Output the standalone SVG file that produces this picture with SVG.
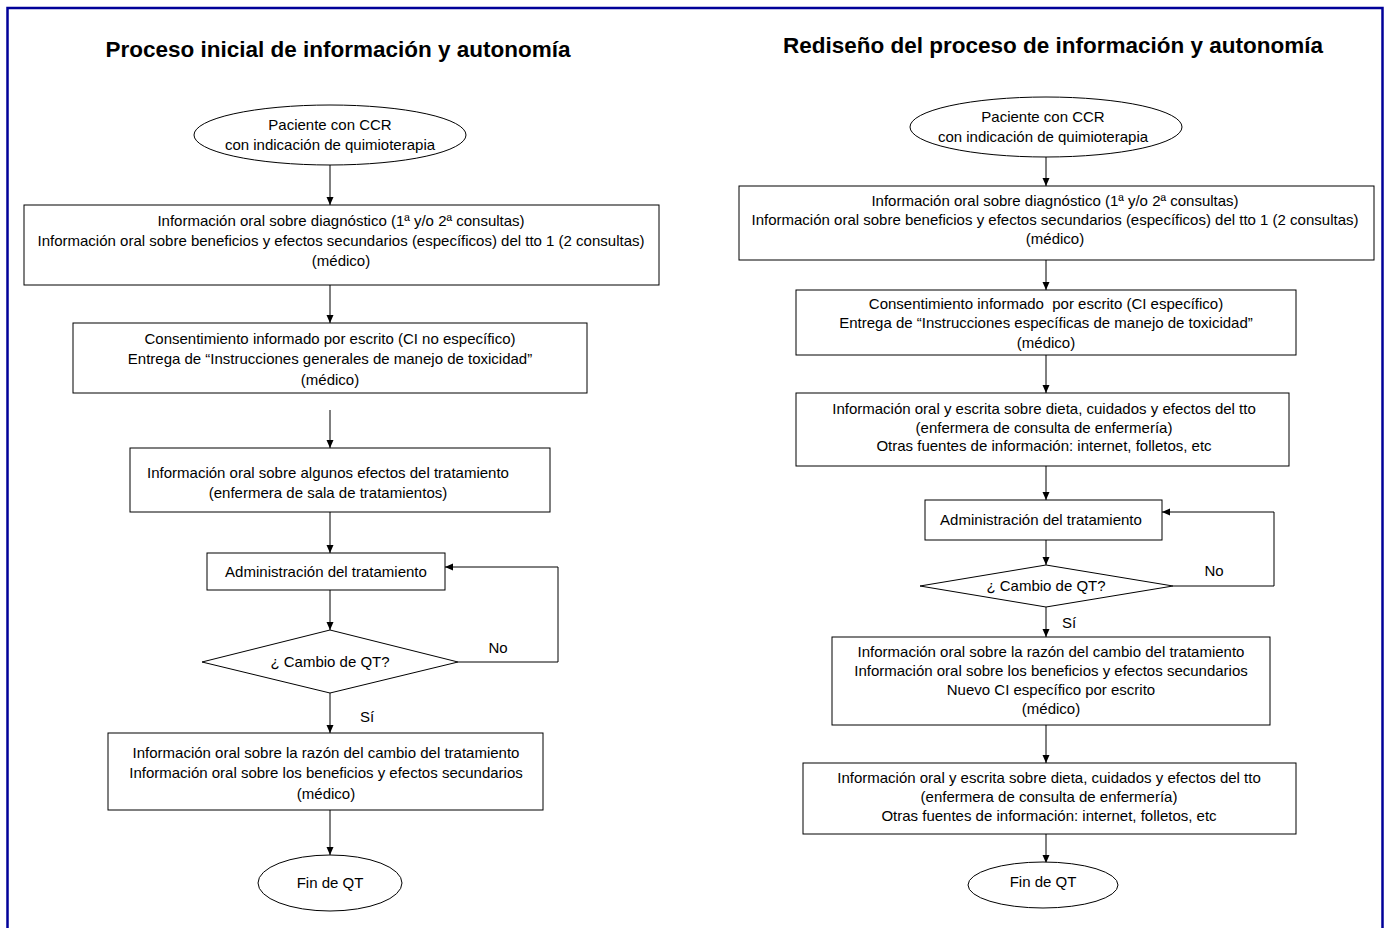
<svg xmlns="http://www.w3.org/2000/svg" width="1389" height="928" viewBox="0 0 1389 928">
<style>
.n{fill:#fff;stroke:#000;stroke-width:1}
.t{font-family:"Liberation Sans",Arial,sans-serif;font-size:15px;fill:#000;text-anchor:middle}
.h{font-family:"Liberation Sans",Arial,sans-serif;font-size:22.5px;font-weight:bold;fill:#000;text-anchor:middle}
.c{fill:none;stroke:#000;stroke-width:1}
</style>
<defs>
<marker id="a" markerWidth="8" markerHeight="8" refX="8" refY="4" orient="auto" markerUnits="userSpaceOnUse">
<path d="M0,0.5 L8,4 L0,7.5 Z" fill="#000"/>
</marker>
</defs>
<rect x="0" y="0" width="1389" height="928" fill="#fff"/>
<path d="M7.5,940 V8 H1382.5 V940" fill="none" stroke="#000099" stroke-width="2.5"/>
<text class="h" x="338" y="57">Proceso inicial de información y autonomía</text>
<text class="h" x="1053" y="53">Rediseño del proceso de información y autonomía</text>

<g id="connectors">
<line class="c" x1="330" y1="165" x2="330" y2="205" marker-end="url(#a)"/>
<line class="c" x1="330" y1="285" x2="330" y2="323" marker-end="url(#a)"/>
<line class="c" x1="330" y1="410" x2="330" y2="448" marker-end="url(#a)"/>
<line class="c" x1="330" y1="512" x2="330" y2="553" marker-end="url(#a)"/>
<line class="c" x1="330" y1="590" x2="330" y2="630" marker-end="url(#a)"/>
<polyline class="c" points="458,662 558,662 558,567 445,567" marker-end="url(#a)"/>
<line class="c" x1="330" y1="693" x2="330" y2="733" marker-end="url(#a)"/>
<line class="c" x1="330" y1="810" x2="330" y2="855" marker-end="url(#a)"/>
<text class="t" x="498" y="653">No</text>
<text class="t" x="367" y="722">Sí</text>

<line class="c" x1="1046" y1="157" x2="1046" y2="186" marker-end="url(#a)"/>
<line class="c" x1="1046" y1="260" x2="1046" y2="290" marker-end="url(#a)"/>
<line class="c" x1="1046" y1="355" x2="1046" y2="393" marker-end="url(#a)"/>
<line class="c" x1="1046" y1="466" x2="1046" y2="500" marker-end="url(#a)"/>
<line class="c" x1="1046" y1="540" x2="1046" y2="565" marker-end="url(#a)"/>
<polyline class="c" points="1173,586 1274,586 1274,512 1162,512" marker-end="url(#a)"/>
<line class="c" x1="1046" y1="607" x2="1046" y2="637" marker-end="url(#a)"/>
<line class="c" x1="1046" y1="725" x2="1046" y2="763" marker-end="url(#a)"/>
<line class="c" x1="1046" y1="834" x2="1046" y2="863" marker-end="url(#a)"/>
<text class="t" x="1214" y="576">No</text>
<text class="t" x="1069" y="628">Sí</text>
</g>

<g id="L-start">
<ellipse class="n" cx="330" cy="135" rx="136" ry="30"/>
<text class="t" x="330" y="130">Paciente con CCR</text>
<text class="t" x="330" y="150">con indicación de quimioterapia</text>
</g>
<g id="L-box1">
<rect class="n" x="24" y="205" width="635" height="80"/>
<text class="t" x="341" y="226">Información oral sobre diagnóstico (1ª y/o 2ª consultas)</text>
<text class="t" x="341" y="246">Información oral sobre beneficios y efectos secundarios (específicos) del tto 1 (2 consultas)</text>
<text class="t" x="341" y="266">(médico)</text>
</g>
<g id="L-box2">
<rect class="n" x="73" y="323" width="514" height="70"/>
<text class="t" x="330" y="344">Consentimiento informado por escrito (CI no específico)</text>
<text class="t" x="330" y="364">Entrega de “Instrucciones generales de manejo de toxicidad”</text>
<text class="t" x="330" y="385">(médico)</text>
</g>
<g id="L-box3">
<rect class="n" x="130" y="448" width="420" height="64"/>
<text class="t" x="328" y="478">Información oral sobre algunos efectos del tratamiento</text>
<text class="t" x="328" y="498">(enfermera de sala de tratamientos)</text>
</g>
<g id="L-admin">
<rect class="n" x="207" y="553" width="238" height="37"/>
<text class="t" x="326" y="577">Administración del tratamiento</text>
</g>
<g id="L-decision">
<polygon class="n" points="330,630 458,662 330,693 202,662"/>
<text class="t" x="330" y="667">¿ Cambio de QT?</text>
</g>
<g id="L-box5">
<rect class="n" x="108" y="733" width="435" height="77"/>
<text class="t" x="326" y="758">Información oral sobre la razón del cambio del tratamiento</text>
<text class="t" x="326" y="778">Información oral sobre los beneficios y efectos secundarios</text>
<text class="t" x="326" y="799">(médico)</text>
</g>
<g id="L-end">
<ellipse class="n" cx="330" cy="883" rx="72" ry="28"/>
<text class="t" x="330" y="888">Fin de QT</text>
</g>

<g id="R-start">
<ellipse class="n" cx="1046" cy="127" rx="136" ry="30"/>
<text class="t" x="1043" y="122">Paciente con CCR</text>
<text class="t" x="1043" y="142">con indicación de quimioterapia</text>
</g>
<g id="R-box1">
<rect class="n" x="739" y="186" width="635" height="74"/>
<text class="t" x="1055" y="206">Información oral sobre diagnóstico (1ª y/o 2ª consultas)</text>
<text class="t" x="1055" y="225">Información oral sobre beneficios y efectos secundarios (específicos) del tto 1 (2 consultas)</text>
<text class="t" x="1055" y="244">(médico)</text>
</g>
<g id="R-box2">
<rect class="n" x="796" y="290" width="500" height="65"/>
<text class="t" x="1046" y="309" xml:space="preserve">Consentimiento informado  por escrito (CI específico)</text>
<text class="t" x="1046" y="328">Entrega de “Instrucciones específicas de manejo de toxicidad”</text>
<text class="t" x="1046" y="348">(médico)</text>
</g>
<g id="R-box3">
<rect class="n" x="796" y="393" width="493" height="73"/>
<text class="t" x="1044" y="414">Información oral y escrita sobre dieta, cuidados y efectos del tto</text>
<text class="t" x="1044" y="433">(enfermera de consulta de enfermería)</text>
<text class="t" x="1044" y="451">Otras fuentes de información: internet, folletos, etc</text>
</g>
<g id="R-admin">
<rect class="n" x="925" y="500" width="237" height="40"/>
<text class="t" x="1041" y="525">Administración del tratamiento</text>
</g>
<g id="R-decision">
<polygon class="n" points="1046,565 1173,586 1046,607 920,586"/>
<text class="t" x="1046" y="591">¿ Cambio de QT?</text>
</g>
<g id="R-box5">
<rect class="n" x="832" y="637" width="438" height="88"/>
<text class="t" x="1051" y="657">Información oral sobre la razón del cambio del tratamiento</text>
<text class="t" x="1051" y="676">Información oral sobre los beneficios y efectos secundarios</text>
<text class="t" x="1051" y="695">Nuevo CI específico por escrito</text>
<text class="t" x="1051" y="714">(médico)</text>
</g>
<g id="R-box6">
<rect class="n" x="803" y="763" width="493" height="71"/>
<text class="t" x="1049" y="783">Información oral y escrita sobre dieta, cuidados y efectos del tto</text>
<text class="t" x="1049" y="802">(enfermera de consulta de enfermería)</text>
<text class="t" x="1049" y="821">Otras fuentes de información: internet, folletos, etc</text>
</g>
<g id="R-end">
<ellipse class="n" cx="1043" cy="885" rx="75" ry="23"/>
<text class="t" x="1043" y="887">Fin de QT</text>
</g>
</svg>
